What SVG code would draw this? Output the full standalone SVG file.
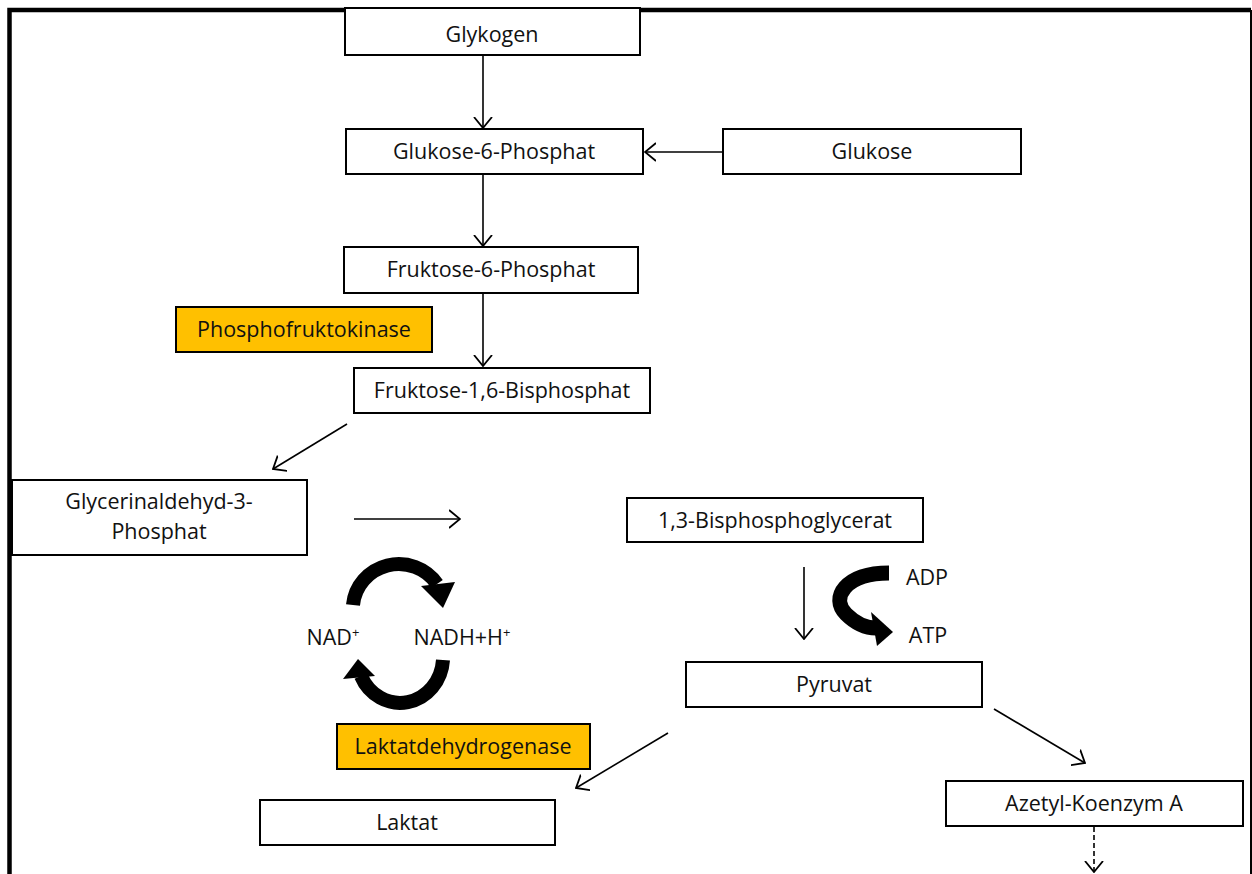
<svg xmlns="http://www.w3.org/2000/svg" width="1252" height="874" viewBox="0 0 1252 874">
<defs>
<style>
.box{fill:#fff;stroke:#000;stroke-width:2}
.enz{fill:#FFC000;stroke:#000;stroke-width:2}
.t{font-family:"Open Sans","Liberation Sans",sans-serif;font-size:21.5px;fill:#111;text-anchor:middle}
.c{stroke:#000;stroke-width:1.6;fill:none;marker-end:url(#ah)}
.thick{stroke:#000;stroke-width:14;fill:none}
</style>
<marker id="ah" viewBox="0 0 12 20" refX="11" refY="10" markerWidth="12" markerHeight="20" markerUnits="userSpaceOnUse" orient="auto">
<path d="M0,1 L11,10 L0,19" fill="none" stroke="#000" stroke-width="1.8"/>
</marker>
</defs>
<rect x="0" y="0" width="1252" height="874" fill="#fff"/>
<g id="frame">
<path d="M9.5,874 V10 H1251" fill="none" stroke="#000" stroke-width="4.5"/>
<line x1="1251" y1="10" x2="1251" y2="874" stroke="#000" stroke-width="2"/>
</g>
<g id="connectors">
<line class="c" x1="483" y1="56" x2="483" y2="128"/>
<line class="c" x1="722" y1="152" x2="645" y2="152"/>
<line class="c" x1="483" y1="174" x2="483" y2="246"/>
<line class="c" x1="483" y1="293" x2="483" y2="366"/>
<line class="c" x1="347" y1="424" x2="273" y2="469"/>
<line class="c" x1="354" y1="519" x2="460" y2="519"/>
<line class="c" x1="804" y1="567" x2="804" y2="639"/>
<line class="c" x1="668" y1="733" x2="576" y2="788"/>
<line class="c" x1="994" y1="709" x2="1085" y2="763"/>
<line class="c" x1="1094" y1="827" x2="1094" y2="872" stroke-dasharray="5,3"/>
<path class="thick" d="M353,605 A46,45 0 0 1 437,584"/>
<polygon points="421,586 455,582 443,608" fill="#000"/>
<path class="thick" d="M443,660 A43,46 0 0 1 361,676"/>
<polygon points="343,679 375,676 358,659" fill="#000"/>
<path class="thick" d="M889,573 C845,573 830,598 846,614 C856,624 866,628 876,628" style="stroke-width:15"/>
<polygon points="871,612 877,646 893,632" fill="#000"/>
</g>
<g id="glykogen"><rect class="box" x="345" y="8" width="295" height="47"/><text class="t" x="492" y="42">Glykogen</text></g>
<g id="g6p"><rect class="box" x="346" y="129" width="297" height="45"/><text class="t" x="494" y="159">Glukose-6-Phosphat</text></g>
<g id="glukose"><rect class="box" x="723" y="129" width="298" height="45"/><text class="t" x="872" y="159">Glukose</text></g>
<g id="f6p"><rect class="box" x="344" y="247" width="294" height="46"/><text class="t" x="491" y="277">Fruktose-6-Phosphat</text></g>
<g id="pfk"><rect class="enz" x="176" y="307" width="256" height="45"/><text class="t" x="304" y="337">Phosphofruktokinase</text></g>
<g id="f16bp"><rect class="box" x="354" y="368" width="296" height="45"/><text class="t" x="502" y="398">Fruktose-1,6-Bisphosphat</text></g>
<g id="gap"><rect class="box" x="12" y="480" width="295" height="75"/><text class="t" x="159" y="509">Glycerinaldehyd-3-</text><text class="t" x="159" y="539">Phosphat</text></g>
<g id="bpg"><rect class="box" x="627" y="498" width="296" height="44"/><text class="t" x="775" y="528">1,3-Bisphosphoglycerat</text></g>
<g id="nad"><text class="t" x="333" y="645">NAD<tspan font-size="13" dy="-8">+</tspan></text></g>
<g id="nadh"><text class="t" x="462" y="645">NADH+H<tspan font-size="13" dy="-8">+</tspan></text></g>
<g id="adp"><text class="t" x="927" y="585">ADP</text></g>
<g id="atp"><text class="t" x="928" y="643">ATP</text></g>
<g id="pyruvat"><rect class="box" x="686" y="662" width="296" height="45"/><text class="t" x="834" y="692">Pyruvat</text></g>
<g id="ldh"><rect class="enz" x="337" y="724" width="253" height="45"/><text class="t" x="463" y="754">Laktatdehydrogenase</text></g>
<g id="laktat"><rect class="box" x="260" y="800" width="295" height="45"/><text class="t" x="407" y="830">Laktat</text></g>
<g id="acoa"><rect class="box" x="946" y="781" width="297" height="45"/><text class="t" x="1094" y="811">Azetyl-Koenzym A</text></g>
</svg>
